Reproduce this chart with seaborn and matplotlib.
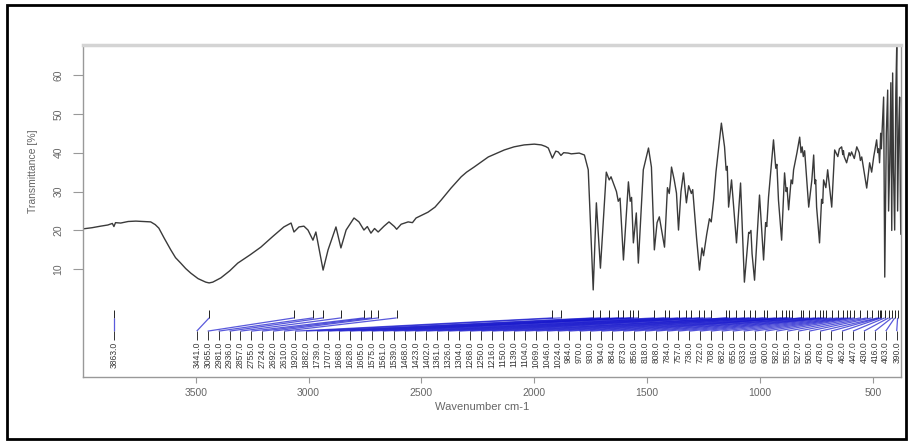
import numpy as np
import pandas as pd
import matplotlib
matplotlib.use("Agg")
import matplotlib.pyplot as plt
import seaborn as sns
from matplotlib.patches import Rectangle
from matplotlib.collections import LineCollection

# IR spectrum: wavenumber (cm-1) and transmittance (%)
wavenumber = [
    4000, 3960, 3922, 3890, 3870, 3863, 3856, 3833, 3800, 3766, 3730, 3700,
    3680, 3664, 3640, 3611, 3590, 3567, 3545, 3522, 3490, 3456, 3441, 3425,
    3389, 3350, 3314, 3260, 3212, 3160, 3110, 3078, 3065, 3043, 3021, 3003,
    2981, 2968, 2936, 2914, 2879, 2857, 2834, 2799, 2777, 2755, 2740, 2724,
    2708, 2692, 2666, 2644, 2620, 2610, 2590, 2559, 2540, 2524, 2471, 2440,
    2413, 2369, 2324, 2300, 2267, 2204, 2133, 2090, 2045, 2000, 1969, 1950,
    1938, 1920, 1905, 1894, 1882, 1870, 1850, 1836, 1801, 1778, 1761, 1739,
    1725, 1707, 1681, 1668, 1660, 1650, 1636, 1628, 1620, 1605, 1583, 1575,
    1569, 1561, 1548, 1539, 1517, 1494, 1481, 1468, 1456, 1446, 1423, 1410,
    1402, 1396, 1392, 1380, 1370, 1361, 1350, 1339, 1326, 1316, 1304, 1298,
    1292, 1281, 1268, 1257, 1250, 1236, 1224, 1216, 1205, 1195, 1171, 1157,
    1150, 1145, 1139, 1126, 1104, 1086, 1069, 1057, 1050, 1046, 1040, 1035,
    1024, 1002, 984, 975, 970, 962, 940, 930, 925, 918, 904, 891,
    884, 880, 873, 862, 856, 851, 836, 824, 818, 813, 808, 802,
    784, 770, 762, 757, 753, 749, 736, 727, 722, 718, 708, 700,
    682, 669, 655, 648, 638, 633, 630, 627, 616, 605, 600, 594,
    582, 571, 560, 555, 549, 527, 514, 505, 496, 483, 478, 474,
    470, 465, 462, 460, 452, 447, 440, 434, 430, 425, 420, 416,
    412, 408, 403, 398, 394, 390, 385, 381, 378, 376,
]
transmittance = [
    20.4, 20.7, 21.1, 21.4, 21.8, 21.0, 22.0, 21.9, 22.3, 22.4, 22.3, 22.2,
    21.5, 20.6, 18.0, 15.0, 13.0, 11.6, 10.2, 9.0, 7.6, 6.7, 6.5, 6.7,
    7.8, 9.6, 11.6, 13.7, 15.7, 18.4, 20.9, 21.9, 19.6, 20.9, 21.1, 20.1,
    17.5, 19.6, 9.8, 15.0, 20.9, 15.5, 20.1, 23.2, 22.2, 20.1, 21.0, 19.3,
    20.5, 19.6, 21.1, 22.2, 21.0, 20.3, 21.6, 22.2, 22.0, 23.2, 24.7, 26.0,
    27.8, 30.9, 33.8, 35.0, 36.3, 38.9, 40.7, 41.5, 42.0, 42.2, 42.0, 41.6,
    41.2, 38.6, 40.4, 40.2, 39.3, 40.0, 39.9, 39.7, 39.9, 39.4, 35.6, 4.7,
    27.1, 10.3, 35.0, 33.0, 33.8, 32.2, 30.0, 27.5, 28.3, 12.4, 32.5, 27.5,
    28.5, 16.8, 24.5, 11.6, 35.6, 41.2, 36.3, 15.0, 22.0, 23.5, 15.7, 31.0,
    29.5, 33.0, 36.3, 33.0, 29.6, 20.1, 30.0, 34.8, 27.1, 31.5, 29.5, 30.5,
    26.0, 18.1, 9.8, 15.5, 13.5, 19.0, 23.0, 22.2, 28.0, 35.0, 47.6, 41.5,
    35.5, 36.5, 26.0, 33.0, 16.8, 32.2, 6.7, 15.0, 19.5, 19.3, 20.0, 14.0,
    7.2, 29.1, 12.4, 22.0, 21.0, 28.6, 43.3, 36.0, 37.0, 27.8, 17.5, 34.8,
    30.0, 31.0, 25.3, 33.0, 32.0, 35.6, 40.0, 44.0, 40.0, 41.5, 39.0, 40.5,
    26.0, 33.0, 39.4, 32.0, 33.0, 26.0, 16.8, 28.0, 27.0, 33.0, 31.0, 35.6,
    26.0, 40.7, 39.0, 41.0, 41.5, 39.5, 40.5, 39.0, 37.4, 40.0, 39.2, 40.2,
    38.5, 41.5, 40.0, 38.0, 38.9, 30.9, 37.4, 35.0, 38.9, 43.3, 40.0, 41.0,
    37.4, 45.0, 41.0, 44.0, 54.3, 8.0, 45.0, 56.1, 25.0, 37.4, 58.0, 20.0,
    60.5, 35.0, 20.1, 55.0, 67.2, 25.0, 45.8, 54.3, 30.0, 19.0,
]

# Picked absorption bands (cm-1)
peak_wavenumbers = [
    3863, 3441, 3065, 2981, 2936, 2857, 2755, 2724, 2692, 2610, 1920, 1882,
    1739, 1707, 1668, 1628, 1605, 1575, 1561, 1539, 1468, 1423, 1402, 1361,
    1326, 1304, 1268, 1250, 1216, 1150, 1139, 1104, 1069, 1046, 1024, 984,
    970, 930, 904, 884, 873, 856, 818, 808, 784, 757, 736, 722,
    708, 682, 655, 633, 616, 600, 582, 555, 527, 505, 478, 470,
    462, 447, 430, 416, 403, 390,
]

x_ticks = [3500, 3000, 2500, 2000, 1500, 1000, 500]
y_ticks = [10, 20, 30, 40, 50, 60]

sns.set_theme(style="white")
plt.rcParams["font.family"] = ["Liberation Sans", "DejaVu Sans"]

W, H = 912, 444
fig = plt.figure(figsize=(W / 100, H / 100), dpi=100)
ax = fig.add_axes([83 / W, 1 - 377 / H, (901 - 83) / W, (377 - 45) / H])

df = pd.DataFrame({"wavenumber": wavenumber, "transmittance": transmittance})
sns.lineplot(data=df, x="wavenumber", y="transmittance", ax=ax,
             color="#3a3a3a", lw=1.0, sort=False, estimator=None)

ax.set_xlim(4000, 375)
ax.set_ylim(-17.7, 67.7)

# Peak annotation: tick at the band, leader to a spread-out label slot
n = len(peak_wavenumbers)
label_x = [peak_wavenumbers[0]] + list(np.linspace(3496, 394, n - 1))
y_tick_top, y_tick_bot = -0.5, -2.5
y_lead_end, y_lab_tick = -5.9, -8.2

top_ticks = [[(p, y_tick_top), (p, y_tick_bot)] for p in peak_wavenumbers]
leaders = [[(p, y_tick_bot), (lx, y_lead_end)] for p, lx in zip(peak_wavenumbers, label_x)]
lab_ticks = [[(lx, y_lead_end), (lx, y_lab_tick)] for lx in label_x]
ax.add_collection(LineCollection(top_ticks, colors="#222222", linewidths=0.7))
ax.add_collection(LineCollection(leaders, colors=[(0.08, 0.08, 0.8, 0.7)], linewidths=0.9))
ax.add_collection(LineCollection(lab_ticks, colors="#333333", linewidths=0.7))
for p, lx in zip(peak_wavenumbers, label_x):
    ax.text(lx, y_lab_tick - 0.4, f"{p:.1f}", rotation=90, ha="center", va="top",
            fontsize=6.2, color="#3a3a3a")

# Axes styling
ax.set_xticks(x_ticks)
ax.set_yticks(y_ticks)
ax.set_xticklabels([str(v) for v in x_ticks])
ax.set_yticklabels([str(v) for v in y_ticks], rotation=90, va="center")
ax.tick_params(axis="x", bottom=True, length=4.5, width=0.8, color="#999999",
               labelsize=7.5, labelcolor="#666666", pad=3.5)
ax.tick_params(axis="y", left=True, length=7, width=0.8, color="#999999",
               labelsize=7.5, labelcolor="#666666", pad=7)
ax.set_xlabel("")
ax.set_ylabel("")
for side in ["left", "right", "bottom"]:
    ax.spines[side].set_color("#999999")
    ax.spines[side].set_linewidth(1.0)
ax.spines["top"].set_color("#d4d4d4")
ax.spines["top"].set_linewidth(2.5)

fig.text(33 / W, 1 - 171 / H, "Transmittance [%]", rotation=90, ha="center",
         va="center", fontsize=7.5, color="#666666")
fig.text(482 / W, 1 - 407 / H, "Wavenumber cm-1", ha="center", va="center",
         fontsize=8, color="#666666")

# Outer frame
fig.add_artist(Rectangle((7 / W, 1 - 439 / H), (906 - 7) / W, (439 - 5) / H,
                         transform=fig.transFigure, fill=False,
                         edgecolor="black", linewidth=2))

fig.savefig("out.png", dpi=100)
